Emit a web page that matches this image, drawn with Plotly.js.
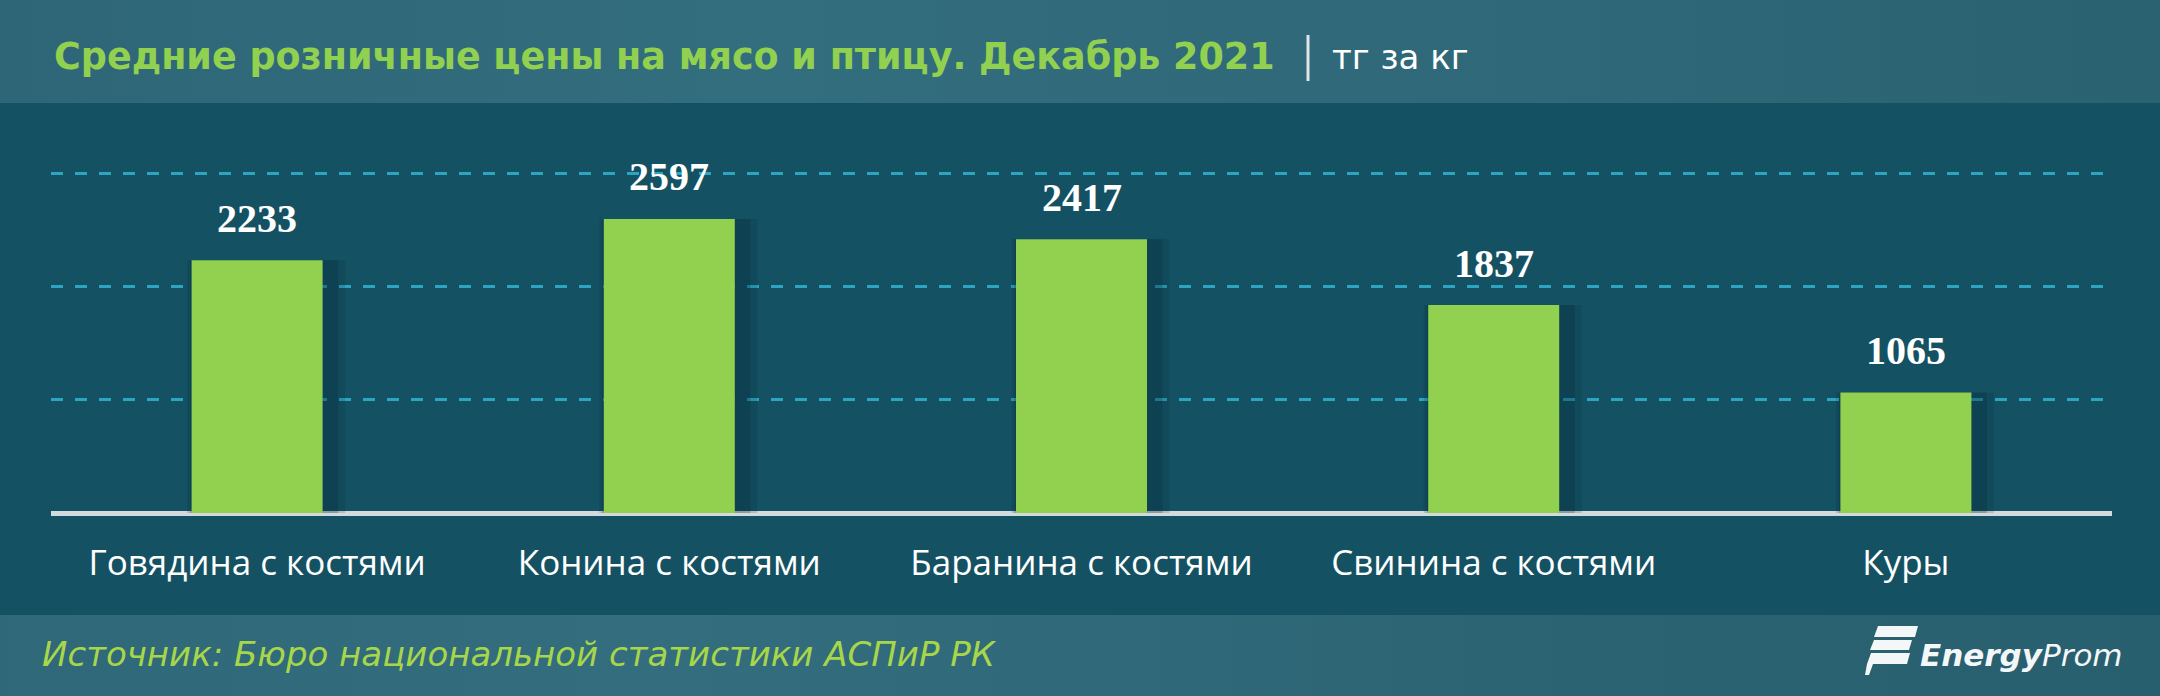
<!DOCTYPE html>
<html>
<head>
<meta charset="utf-8">
<script src="https://cdn.plot.ly/plotly-3.0.1.min.js"></script>
<style>
  html, body { margin: 0; padding: 0; }
  #wrap { position: relative; width: 2160px; height: 696px; overflow: hidden; background: #145263; }
  #hdr { position: absolute; left: 0; top: 0; width: 2160px; height: 103px;
         background: linear-gradient(90deg, #2e6677 0%, #336e7e 35%, #2f6878 70%, #2a6272 100%); }
  #ftr { position: absolute; left: 0; top: 615px; width: 2160px; height: 81px;
         background: linear-gradient(90deg, #2f6878 0%, #346e7e 30%, #2c6474 70%, #285f6f 100%); }
  #chart { position: absolute; left: 0; top: 0; width: 2160px; height: 696px; }
</style>
</head>
<body>
<div id="wrap">
  <div id="hdr"></div>
  <div id="ftr"></div>
  <div id="chart"></div>
</div>
<script>
// ---- data ----
const categories = ["Говядина с костями", "Конина с костями", "Баранина с костями", "Свинина с костями", "Куры"];
const prices = [2233, 2597, 2417, 1837, 1065];
const gridValues = [1000, 2000, 3000];
const titleText = "Средние розничные цены на мясо и птицу. Декабрь 2021";
const unitText = "тг за кг";
const sourceText = "Источник: Бюро национальной статистики АСПиР РК";

// ---- geometry helpers (pixel -> paper) ----
const W = 2160, H = 696;
const L = 51, R = 48, T = 162, B = 183;
const PW = W - L - R, PH = H - T - B;
const px = x => (x - L) / PW;
const py = y => (H - B - y) / PH;
const catPx = PW / categories.length;
const barW = 131 / catPx;

function poly(pts) {
  return pts.map((p, i) => (i ? 'L' : 'M') + px(p[0]).toFixed(5) + ',' + py(p[1]).toFixed(5)).join(' ') + ' Z';
}

function shadowTrace(leftPx, widthPx, color) {
  return {
    type: 'bar', x: categories, y: prices,
    width: categories.map(() => widthPx / catPx),
    offset: categories.map(() => leftPx / catPx),
    marker: { color: color, line: { width: 0 } },
    hoverinfo: 'skip', showlegend: false
  };
}
const shadowOuter = shadowTrace(-70, 158, 'rgba(5,38,50,0.16)');
const shadowInner = shadowTrace(-67, 148, 'rgba(5,38,50,0.22)');
const bars = {
  type: 'bar', x: categories, y: prices,
  width: categories.map(() => barW),
  marker: { color: '#92d050', line: { width: 0 } },
  showlegend: false
};

const annotations = categories.map((c, i) => ({
  x: c, y: prices[i], xref: 'x', yref: 'y',
  text: String(prices[i]), showarrow: false,
  yanchor: 'middle', yshift: 42,
  font: { family: 'Liberation Serif', size: 40, color: '#ffffff', weight: 'bold' }
}));

annotations.push({
  xref: 'paper', yref: 'paper', x: px(52), y: py(57), xanchor: 'left', yanchor: 'middle',
  text: '<b>' + titleText + '</b>', showarrow: false,
  font: { family: 'DejaVu Sans', size: 36.5, color: '#92d050' }
});
annotations.push({
  xref: 'paper', yref: 'paper', x: px(1330), y: py(57), xanchor: 'left', yanchor: 'middle',
  text: unitText, showarrow: false,
  font: { family: 'DejaVu Sans', size: 34, color: '#ffffff' }
});
annotations.push({
  xref: 'paper', yref: 'paper', x: px(40), y: py(654), xanchor: 'left', yanchor: 'middle',
  text: '<i>' + sourceText + '</i>', showarrow: false,
  font: { family: 'DejaVu Sans', size: 34, color: '#a8d64a' }
});
annotations.push({
  xref: 'paper', yref: 'paper', x: px(1918), y: py(655), xanchor: 'left', yanchor: 'middle',
  text: '<i><b>Energy</b>Prom</i>', showarrow: false,
  font: { family: 'DejaVu Sans', size: 31, color: '#f4f7f8' }
});

const shapes = [
  { type: 'line', xref: 'paper', yref: 'paper', x0: px(1308), x1: px(1308), y0: py(35), y1: py(81),
    line: { color: '#dfe6e9', width: 3 } },
  { type: 'path', xref: 'paper', yref: 'paper', path: poly([[1878,626],[1918,626],[1915,637],[1874,637]]),
    fillcolor: '#f4f7f8', line: { width: 0 } },
  { type: 'path', xref: 'paper', yref: 'paper', path: poly([[1874,640],[1912,640],[1909,650],[1870,650]]),
    fillcolor: '#f4f7f8', line: { width: 0 } },
  { type: 'path', xref: 'paper', yref: 'paper', path: poly([[1871,653],[1910,653],[1907,664],[1867,664]]),
    fillcolor: '#f4f7f8', line: { width: 0 } },
  { type: 'path', xref: 'paper', yref: 'paper', path: poly([[1867,664],[1873,664],[1869,675],[1865,675]]),
    fillcolor: '#f4f7f8', line: { width: 0 } }
];

const layout = {
  width: W, height: H,
  margin: { l: L, r: R, t: T, b: B, pad: 0 },
  paper_bgcolor: 'rgba(0,0,0,0)', plot_bgcolor: 'rgba(0,0,0,0)',
  barmode: 'overlay',
  showlegend: false,
  xaxis: {
    type: 'category', range: [-0.5, categories.length - 0.5], fixedrange: true,
    showgrid: false, zeroline: false, showline: false, ticks: '',
    ticklabelstandoff: 26,
    tickfont: { family: 'Open Sans', size: 35, color: '#ffffff' }
  },
  yaxis: {
    range: [0, 3100], fixedrange: true,
    tickvals: gridValues, showticklabels: false, ticks: '',
    showgrid: true, gridcolor: '#2ba5c2', gridwidth: 3, griddash: '12px,12px',
    zeroline: true, zerolinecolor: '#d3dadd', zerolinewidth: 5, showline: false
  },
  annotations: annotations,
  shapes: shapes
};

Plotly.newPlot('chart', [shadowOuter, shadowInner, bars], layout, { staticPlot: true, displayModeBar: false });
</script>
</body>
</html>
